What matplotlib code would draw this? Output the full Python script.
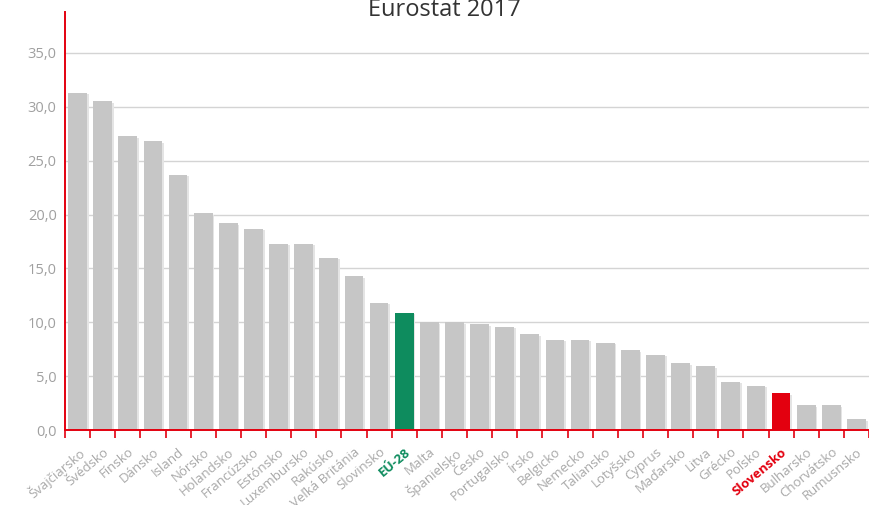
import matplotlib.pyplot as plt
import numpy as np

# ---------- data ----------
krajiny = ["Švajčiarsko", "Švédsko", "Fínsko", "Dánsko", "Island", "Nórsko",
           "Holandsko", "Francúzsko", "Estónsko", "Luxembursko", "Rakúsko",
           "Veľká Británia", "Slovinsko", "EÚ-28", "Malta", "Španielsko",
           "Česko", "Portugalsko", "Írsko", "Belgicko", "Nemecko", "Taliansko",
           "Lotyšsko", "Cyprus", "Maďarsko", "Litva", "Grécko", "Poľsko",
           "Slovensko", "Bulharsko", "Chorvátsko", "Rumusnsko"]
hodnoty = [31.3, 30.5, 27.3, 26.8, 23.7, 20.1, 19.2, 18.7, 17.3, 17.3, 16.0,
           14.3, 11.8, 10.9, 10.0, 10.0, 9.8, 9.6, 8.9, 8.4, 8.4, 8.1,
           7.4, 7.0, 6.2, 5.9, 4.5, 4.1, 3.4, 2.3, 2.3, 1.0]
y_ticks = [0, 5, 10, 15, 20, 25, 30, 35]

# ---------- styles ----------
SEDA = "#c6c6c6"
ZELENA = "#0e8c5e"
CERVENA = "#e3000f"
zvyraznene = {"EÚ-28": ZELENA, "Slovensko": CERVENA}

plt.rcParams['font.family'] = ['Open Sans', 'DejaVu Sans']

fig = plt.figure(figsize=(8.69, 5.05), dpi=100)
ax = fig.add_axes([65 / 869, 75 / 505, 804 / 869, 418 / 505])

x = np.arange(len(krajiny))
farby = [zvyraznene.get(k, SEDA) for k in krajiny]

# jemny tien za stlpcami
ax.bar(x + 0.07, np.array(hodnoty) - 0.15, width=0.75, color="#e4e4e4",
       zorder=2)
ax.bar(x, hodnoty, width=0.75, color=farby, zorder=3)

ax.set_xlim(-0.5, -0.5 + 804 / 25.3)
ax.set_ylim(0, 38.8)

# mriezka
ax.set_yticks(y_ticks)
ax.set_yticklabels([f"{v:.1f}".replace(".", ",") for v in y_ticks],
                   color="#a0a0a0", fontsize=10.5)
ax.grid(axis='y', color="#d4d4d4", lw=1, zorder=1)
ax.tick_params(axis='y', length=0, pad=6)

# osi
for s in ("top", "right"):
    ax.spines[s].set_visible(False)
for s in ("left", "bottom"):
    ax.spines[s].set_color(CERVENA)
    ax.spines[s].set_linewidth(1.4)
    ax.spines[s].set_zorder(4)

# popisy krajin
ax.set_xticks(x)
ax.set_xticklabels(krajiny, rotation=40, ha='right', rotation_mode='anchor',
                   fontsize=9.5, color="#a8a8a8")
ax.tick_params(axis='x', length=0, pad=11)
for lbl in ax.get_xticklabels():
    k = lbl.get_text()
    if k in zvyraznene:
        lbl.set_color(zvyraznene[k])
        lbl.set_fontweight('bold')

# cervene ciarky medzi kategoriami
ax.set_xticks(np.arange(len(krajiny) + 1) - 0.5, minor=True)
ax.tick_params(axis='x', which='minor', length=6, width=1.2, color=CERVENA,
               direction='out')

fig.text(0.512, 0.968, "Eurostat 2017", ha='center', va='baseline',
         fontsize=17, color="#333333")

fig.savefig("out.png", dpi=100)
